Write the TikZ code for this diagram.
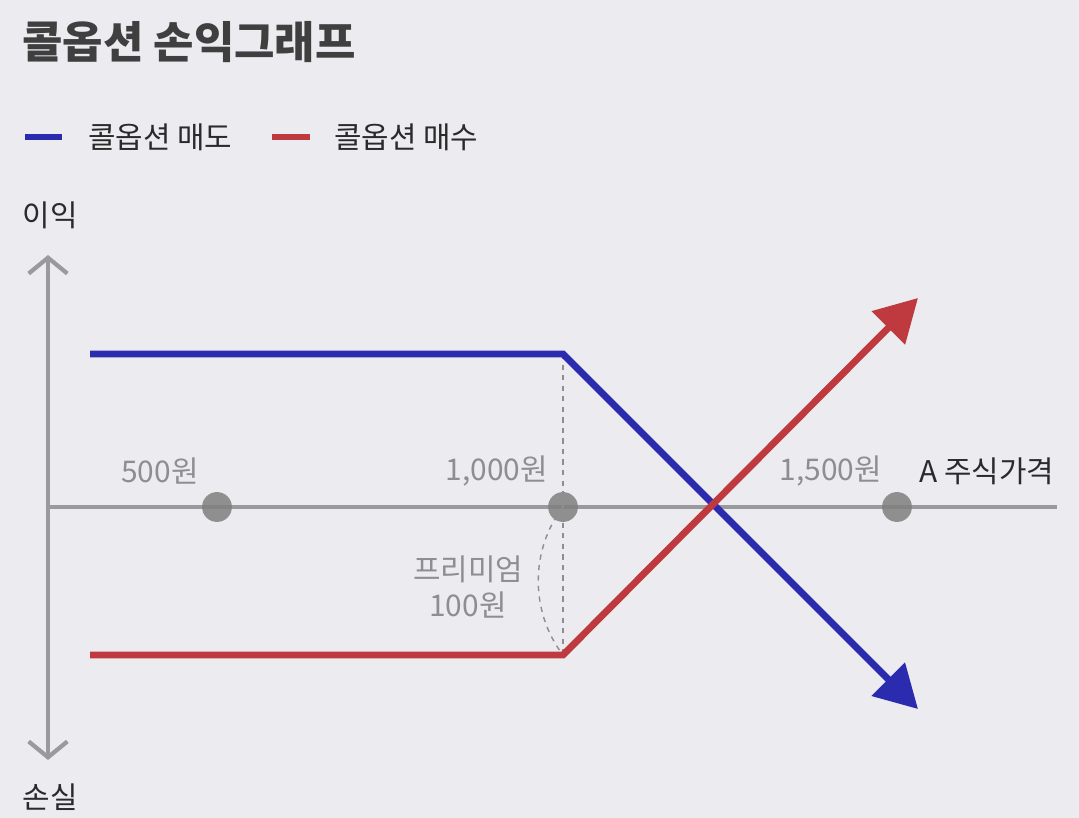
\documentclass[tikz,border=0pt]{standalone}
\usepackage{fontspec}
\setmainfont{Noto Sans CJK KR}
\usetikzlibrary{arrows.meta}
\definecolor{bg}{HTML}{ECEBF0}
\definecolor{ax}{HTML}{9A9A9C}
\definecolor{bl}{HTML}{2B2BB0}
\definecolor{rd}{HTML}{BE3A3E}
\definecolor{tx}{HTML}{2A2A2A}
\definecolor{lb}{HTML}{8E8E92}
\tikzset{
 lbl/.style={font=\fontsize{17}{20}\selectfont, text=lb, inner sep=0},
 dot/.style={circle, fill=black!50, fill opacity=0.85, minimum size=17pt, inner sep=0},
 axisline/.style={ax, line width=2.4pt},
 payoff/.style={line width=3.9pt, -{Triangle[length=24pt,width=26pt]}},
}
\begin{document}
\begin{tikzpicture}[x=0.02cm,y=-0.02cm]
\fill[bg] (0,0) rectangle (1079,818);
\node[anchor=west, font=\bfseries\fontsize{25}{28}\selectfont, text=tx!90, inner sep=0] (title) at (22,42) {콜옵션 손익그래프};
\coordinate (l1a) at (25,137); \coordinate (l1b) at (62,137);
\draw[bl, line width=3.9pt] (l1a) -- (l1b);
\node[anchor=west, font=\fontsize{17}{20}\selectfont, text=tx, inner sep=0] (t1) at (88,137) {콜옵션 매도};
\coordinate (l2a) at (272,137); \coordinate (l2b) at (310,137);
\draw[rd, line width=3.9pt] (l2a) -- (l2b);
\node[anchor=west, font=\fontsize{17}{20}\selectfont, text=tx, inner sep=0] (t2) at (334,137) {콜옵션 매수};
% axes
\coordinate (vt) at (48,255); \coordinate (vb) at (48,760);
\coordinate (h0) at (48,507); \coordinate (h1) at (1057,507);
\draw[axisline, {Straight Barb[length=9pt,width=22pt]}-{Straight Barb[length=9pt,width=22pt]}] (vt) -- (vb);
\draw[axisline] (h0) -- (h1);
\node[font=\fontsize{17}{20}\selectfont, text=tx, inner sep=0] (up) at (50,215) {이익};
\node[font=\fontsize{17}{20}\selectfont, text=tx, inner sep=0] (dn) at (50,797) {손실};
\node[dot] (d1) at (217,507) {};
\node[dot] (d2) at (563,507) {};
\node[dot] (d3) at (897,507) {};
\node[lbl] at (160,471) {500원};
\node[lbl] at (497,471) {1,000원};
\node[lbl] at (831,471) {1,500원};
\node[font=\fontsize{17}{20}\selectfont, text=tx, inner sep=0] at (987,471) {A 주식가격};
% dashed
\coordinate (ktop) at (563,354); \coordinate (kbot) at (563,655);
\draw[lb, dashed, line width=0.8pt] (ktop) -- (kbot);
\draw[lb, dashed, line width=0.8pt] (d2.center) .. controls (530,550) and (530,612) .. (kbot);
\node[lbl, align=center] at (468,587) {프리미엄\\100원};
% payoffs
\draw[bl, payoff] (90,354) -- (ktop) -- (918,709);
\draw[rd, payoff] (90,655) -- (kbot) -- (918,298);
\end{tikzpicture}
\end{document}
